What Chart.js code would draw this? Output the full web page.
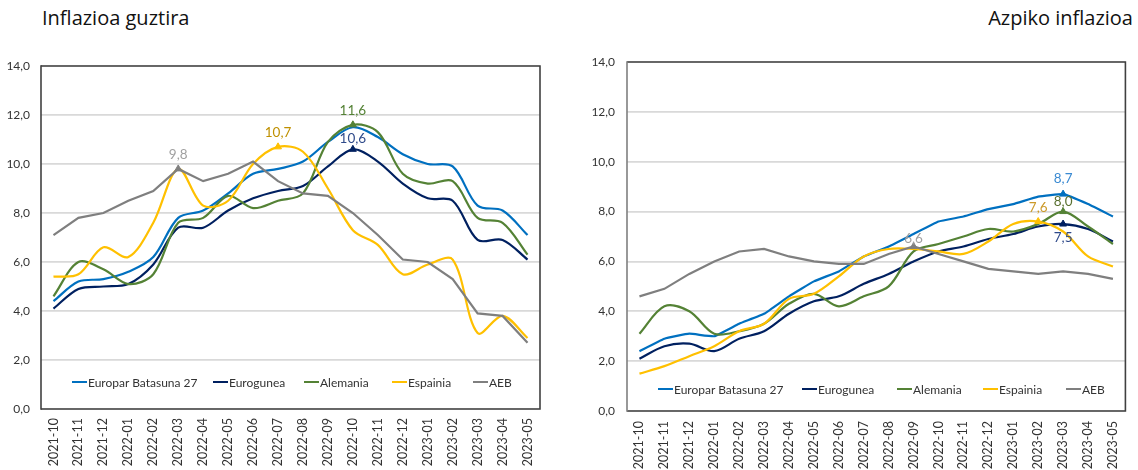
<!DOCTYPE html>
<html>
<head>
<meta charset="utf-8">
<script src="https://cdn.jsdelivr.net/npm/chart.js@4.4.0/dist/chart.umd.min.js"></script>
<style>
html,body{margin:0;padding:0;background:#fff;}
#wrap{position:relative;width:1138px;height:470px;overflow:hidden;background:#fff;}
.pane{position:absolute;top:0;width:569px;height:470px;}
.title{position:absolute;top:8px;font-family:'Open Sans',sans-serif;font-size:20px;line-height:1;color:#111;white-space:nowrap;}
.leg{position:absolute;height:14px;display:flex;align-items:center;font-family:Lato,sans-serif;font-size:12px;color:#333;white-space:nowrap;}
.leg i{display:inline-block;width:15px;height:2px;margin-right:1px;}
</style>
</head>
<body>
<div id="wrap">
  <div class="title" style="left:42px;">Inflazioa guztira</div>
  <div class="title" style="right:5px;">Azpiko inflazioa</div>
  <div class="pane" style="left:0;"><canvas id="cTotal" width="569" height="470"></canvas></div>
  <div class="pane" style="left:569px;"><canvas id="cCore" width="569" height="470"></canvas></div>
</div>
<script>
// ---------- DATA ----------
const months = ['2021-10','2021-11','2021-12','2022-01','2022-02','2022-03','2022-04','2022-05','2022-06','2022-07',
                '2022-08','2022-09','2022-10','2022-11','2022-12','2023-01','2023-02','2023-03','2023-04','2023-05'];
const seriesNames = ['Europar Batasuna 27','Eurogunea','Alemania','Espainia','AEB'];

// Inflazioa guztira
const totalEU27     = [4.4,5.2,5.3,5.6,6.2,7.8,8.1,8.8,9.6,9.8,10.1,10.9,11.5,11.1,10.4,10.0,9.9,8.3,8.1,7.1];
const totalEurozone = [4.1,4.9,5.0,5.1,5.9,7.4,7.4,8.1,8.6,8.9,9.1,9.9,10.6,10.1,9.2,8.6,8.5,6.9,6.9,6.1];
const totalGermany  = [4.6,6.0,5.7,5.1,5.5,7.6,7.8,8.7,8.2,8.5,8.8,10.9,11.6,11.3,9.6,9.2,9.3,7.8,7.6,6.3];
const totalSpain    = [5.4,5.5,6.6,6.2,7.6,9.8,8.3,8.5,10.0,10.7,10.5,9.0,7.3,6.7,5.5,5.9,6.1,3.1,3.8,2.9];
const totalUSA      = [7.1,7.8,8.0,8.5,8.9,9.8,9.3,9.6,10.1,9.3,8.8,8.7,8.0,7.1,6.1,6.0,5.3,3.9,3.8,2.7];

// Azpiko inflazioa
const coreEU27      = [2.4,2.9,3.1,3.0,3.5,3.9,4.6,5.2,5.6,6.2,6.6,7.1,7.6,7.8,8.1,8.3,8.6,8.7,8.3,7.8];
const coreEurozone  = [2.1,2.6,2.7,2.4,2.9,3.2,3.9,4.4,4.6,5.1,5.5,6.0,6.4,6.6,6.9,7.1,7.4,7.5,7.3,6.8];
const coreGermany   = [3.1,4.2,4.0,3.1,3.2,3.5,4.3,4.7,4.2,4.6,5.0,6.4,6.7,7.0,7.3,7.2,7.5,8.0,7.4,6.7];
const coreSpain     = [1.5,1.8,2.2,2.6,3.2,3.5,4.5,4.7,5.4,6.2,6.5,6.5,6.4,6.3,6.8,7.5,7.6,7.2,6.2,5.8];
const coreUSA       = [4.6,4.9,5.5,6.0,6.4,6.5,6.2,6.0,5.9,5.9,6.3,6.6,6.3,6.0,5.7,5.6,5.5,5.6,5.5,5.3];

const yMin = 0, yMax = 14, yStep = 2;

// highlighted points (series index, month index)
const totalHighlights = [[4,5],[3,9],[2,12],[1,12]];
const coreHighlights  = [[0,17],[2,17],[3,16],[1,17],[4,11]];

// ---------- STYLE ----------
const colors = ['#0070C0','#002060','#548235','#FFC000','#7F7F7F'];
const fmt = v => Number(v).toFixed(1).replace('.', ',');

const totalLabelStyle = [
  {color:'#A0A0A0', dy:-14},
  {color:'#BF9000', dy:-14},
  {color:'#548235', dy:-14},
  {color:'#2F4A8A', dy:-11}
];
const coreLabelStyle = [
  {color:'#3A8AD2', dy:-15},
  {color:'#5A7030', dy:-10},
  {color:'#CC9A2A', dy:-14},
  {color:'#2F4A8A', dy:14},
  {color:'#A0A0A0', dy:-8}
];

const boxPlugin = {
  id: 'box',
  beforeDatasetsDraw(chart, args, o) {
    const {left, right, top, bottom} = chart.chartArea;
    const ctx = chart.ctx;
    ctx.save();
    ctx.lineWidth = o.width;
    ctx.strokeStyle = o.color;
    ctx.beginPath();
    ctx.moveTo(left, top); ctx.lineTo(right, top); ctx.lineTo(right, bottom); ctx.lineTo(left, bottom);
    ctx.stroke();
    ctx.strokeStyle = o.leftColor;
    ctx.beginPath();
    ctx.moveTo(left, top - o.width / 2); ctx.lineTo(left, bottom + o.width / 2);
    ctx.stroke();
    ctx.restore();
  }
};

const valueLabelPlugin = {
  id: 'valueLabels',
  afterDatasetsDraw(chart, args, o) {
    const ctx = chart.ctx;
    (o.items || []).forEach((h, k) => {
      const [s, i] = h;
      const st = o.styles[k];
      const pt = chart.getDatasetMeta(s).data[i];
      const v = chart.data.datasets[s].data[i];
      ctx.save();
      ctx.font = '13.5px Lato';
      ctx.fillStyle = st.color;
      ctx.textAlign = 'center';
      ctx.textBaseline = 'middle';
      ctx.fillText(fmt(v), pt.x, pt.y + st.dy);
      ctx.restore();
    });
  }
};

function makeChart(id, seriesList, tensions, highlights, labelStyles, geo) {
  const datasets = seriesList.map((vals, s) => {
    const radii = vals.map((_, i) => highlights.some(h => h[0] === s && h[1] === i) ? 4 : 0);
    return {
      label: seriesNames[s],
      data: vals,
      borderColor: colors[s],
      backgroundColor: colors[s],
      borderWidth: 2.2,
      tension: tensions[s],
      pointStyle: 'triangle',
      pointRadius: radii,
      pointHoverRadius: radii,
      pointBackgroundColor: colors[s],
      pointBorderColor: colors[s],
      pointBorderWidth: 1,
      fill: false,
      order: seriesList.length - 1 - s
    };
  });
  return new Chart(document.getElementById(id), {
    type: 'line',
    data: { labels: months, datasets },
    options: {
      responsive: false,
      animation: false,
      devicePixelRatio: 1,
      layout: { padding: { left: 0, right: geo.padRight, top: geo.top, bottom: 0 } },
      plugins: {
        legend: { display: false },
        tooltip: { enabled: false },
        box: { color: '#404040', leftColor: geo.leftColor, width: 1.6 },
        valueLabels: { items: highlights, styles: labelStyles }
      },
      scales: {
        x: {
          type: 'category',
          offset: true,
          grid: { display: false, drawTicks: false },
          border: { display: false },
          ticks: { autoSkip: false, minRotation: 90, maxRotation: 90, padding: geo.xPad,
                   color: '#333', font: { family: 'Lato', size: 12.5 } },
          afterFit(s) { s.height = geo.xHeight; }
        },
        y: {
          min: yMin, max: yMax,
          grid: { color: '#D9D9D9', lineWidth: 1.8, drawTicks: false },
          border: { display: false },
          ticks: { stepSize: yStep, padding: geo.yPad, color: '#333',
                   font: { family: 'Lato', size: 12 }, callback: v => fmt(v) },
          afterFit(s) { s.width = geo.yWidth; }
        }
      }
    },
    plugins: [boxPlugin, valueLabelPlugin]
  });
}

makeChart('cTotal',
  [totalEU27, totalEurozone, totalGermany, totalSpain, totalUSA],
  [0.33, 0.33, 0.33, 0.33, 0],
  totalHighlights, totalLabelStyle,
  { top: 66, padRight: 29, yWidth: 41, xHeight: 61, yPad: 11, xPad: 9, leftColor: '#404040' });

makeChart('cCore',
  [coreEU27, coreEurozone, coreGermany, coreSpain, coreUSA],
  [0.1, 0.33, 0.33, 0.33, 0],
  coreHighlights, coreLabelStyle,
  { top: 62, padRight: 2, yWidth: 58, xHeight: 59, yPad: 12, xPad: 10, leftColor: '#7F7F7F' });

// ---------- HTML legends ----------
const legendLayout = [
  { top: 375, xs: [72, 213, 304, 392, 473] },
  { top: 382, xs: [658, 802, 897, 983, 1066] }
];
const wrap = document.getElementById('wrap');
legendLayout.forEach(L => {
  seriesNames.forEach((name, s) => {
    const d = document.createElement('div');
    d.className = 'leg';
    d.style.left = L.xs[s] + 'px';
    d.style.top = L.top + 'px';
    const i = document.createElement('i');
    i.style.background = colors[s];
    d.appendChild(i);
    d.appendChild(document.createTextNode(name));
    wrap.appendChild(d);
  });
});
</script>
</body>
</html>
